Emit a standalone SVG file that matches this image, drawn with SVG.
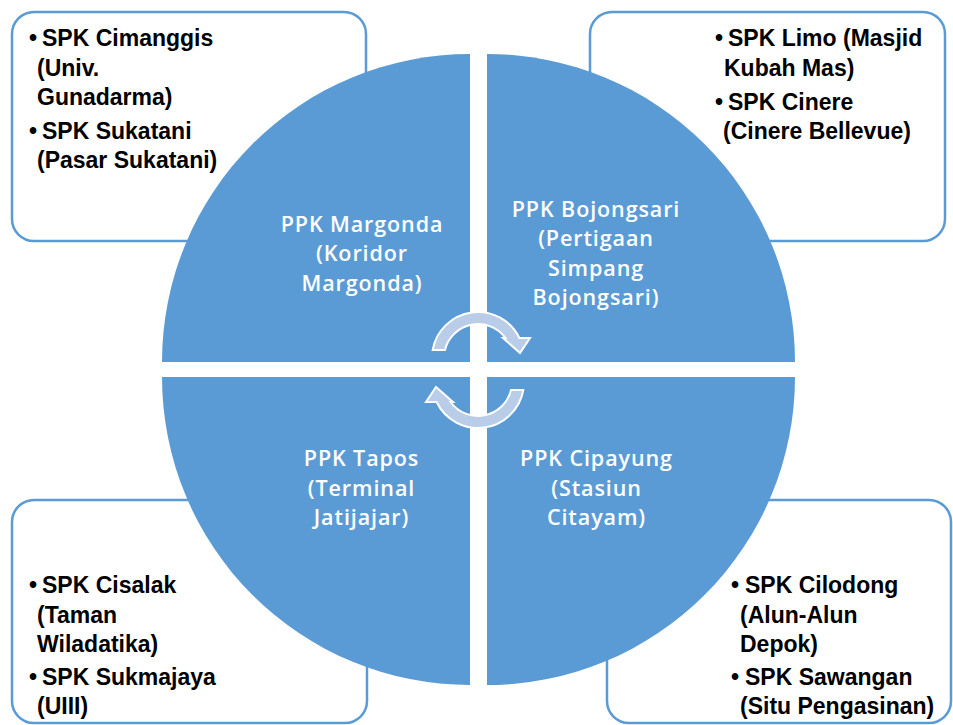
<svg xmlns="http://www.w3.org/2000/svg" width="953" height="725" viewBox="0 0 953 725">
<style>
.box{fill:#fff;stroke:#5B9BD5;stroke-width:2.5}
.q{fill:#5B9BD5}
.b{font-family:"Liberation Sans",Arial,sans-serif;font-weight:bold;font-size:23px;fill:#000}
.w{font-family:"Open Sans","Liberation Sans",sans-serif;font-size:21.5px;font-weight:600;letter-spacing:0.9px;fill:#fff;text-anchor:middle}
.arr{fill:#B9CDE8;stroke:#fff;stroke-width:2;stroke-linejoin:miter}
</style>
<rect width="953" height="725" fill="#fff"/>
<g id="box-tl">
<rect class="box" x="12" y="12" width="354" height="229" rx="22"/>
<text class="b"><tspan x="29" y="46">•</tspan><tspan x="42" y="46">SPK Cimanggis</tspan><tspan x="37" y="75.5">(Univ.</tspan><tspan x="37" y="105">Gunadarma)</tspan><tspan x="29" y="138.5">•</tspan><tspan x="42" y="138.5">SPK Sukatani</tspan><tspan x="37" y="168">(Pasar Sukatani)</tspan></text>
</g>
<g id="box-tr">
<rect class="box" x="590" y="12" width="355" height="229" rx="22"/>
<text class="b"><tspan x="715" y="46">•</tspan><tspan x="728" y="46">SPK Limo (Masjid</tspan><tspan x="724" y="76">Kubah Mas)</tspan><tspan x="715" y="110">•</tspan><tspan x="728" y="110">SPK Cinere</tspan><tspan x="723" y="139">(Cinere Bellevue)</tspan></text>
</g>
<g id="box-bl">
<rect class="box" x="12" y="500" width="355" height="223" rx="22"/>
<text class="b"><tspan x="29" y="592.5">•</tspan><tspan x="42" y="592.5">SPK Cisalak</tspan><tspan x="37" y="622.5">(Taman</tspan><tspan x="37" y="652">Wiladatika)</tspan><tspan x="29" y="685">•</tspan><tspan x="42" y="685">SPK Sukmajaya</tspan><tspan x="37" y="714">(UIII)</tspan></text>
</g>
<g id="box-br">
<rect class="box" x="607" y="500" width="344" height="223" rx="22"/>
<text class="b"><tspan x="731" y="592.5">•</tspan><tspan x="745" y="592.5">SPK Cilodong</tspan><tspan x="740" y="622.5">(Alun-Alun</tspan><tspan x="740" y="652">Depok)</tspan><tspan x="731" y="685">•</tspan><tspan x="745" y="685">SPK Sawangan</tspan><tspan x="740" y="714">(Situ Pengasinan)</tspan></text>
</g>
<g id="ppk-margonda">
<path class="q" d="M470,362 L162,362 A308,308 0 0 1 470,54 Z"/>
<text class="w"><tspan x="362" y="231.5">PPK Margonda</tspan><tspan x="362" y="261">(Koridor</tspan><tspan x="362" y="290.5">Margonda)</tspan></text>
</g>
<g id="ppk-bojongsari">
<path class="q" d="M487,362 L487,54 A308,308 0 0 1 795,362 Z"/>
<text class="w"><tspan x="596" y="216.5">PPK Bojongsari</tspan><tspan x="596" y="246">(Pertigaan</tspan><tspan x="596" y="275.5">Simpang</tspan><tspan x="596" y="305">Bojongsari)</tspan></text>
</g>
<g id="ppk-tapos">
<path class="q" d="M470,377 L470,685 A308,308 0 0 1 162,377 Z"/>
<text class="w"><tspan x="361.5" y="465.5">PPK Tapos</tspan><tspan x="361.5" y="495.5">(Terminal</tspan><tspan x="361.5" y="525">Jatijajar)</tspan></text>
</g>
<g id="ppk-cipayung">
<path class="q" d="M487,377 L795,377 A308,308 0 0 1 487,685 Z"/>
<text class="w"><tspan x="596.5" y="465.5">PPK Cipayung</tspan><tspan x="596.5" y="495.5">(Stasiun</tspan><tspan x="596.5" y="525">Citayam)</tspan></text>
</g>
<g id="connectors">
<path id="cyc-top" class="arr" d="M432.7,350 A46,46 0 0 1 519.4,338 L530,338 L520,353 L503,338 L505.5,338 A34,34 0 0 0 445,350 Z"/>
<path id="cyc-bottom" class="arr" transform="rotate(180 478 370)" d="M432.7,350 A46,46 0 0 1 519.4,338 L530,338 L520,353 L503,338 L505.5,338 A34,34 0 0 0 445,350 Z"/>
</g>
</svg>
